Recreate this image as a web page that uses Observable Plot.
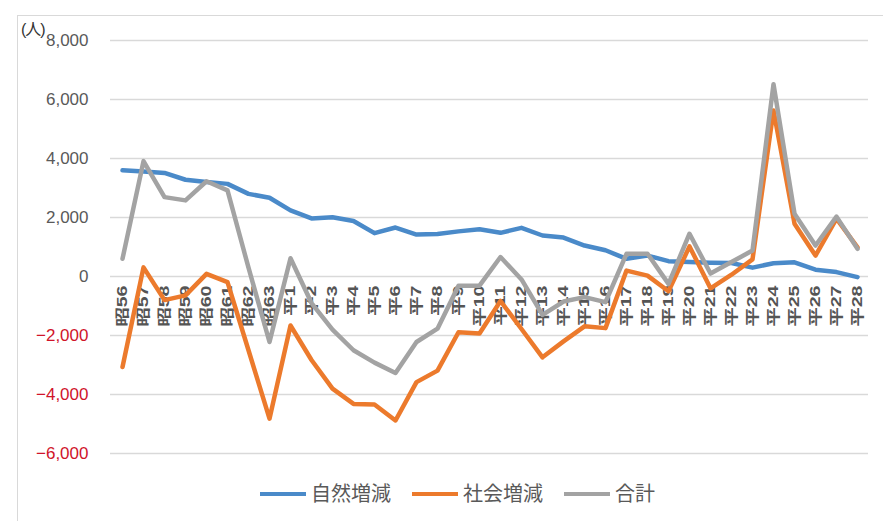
<!DOCTYPE html>
<html>
<head>
<meta charset="utf-8">
<script src="https://cdn.jsdelivr.net/npm/d3@7"></script>
<script src="https://cdn.jsdelivr.net/npm/@observablehq/plot@0.6"></script>
<style>
  html, body { margin: 0; padding: 0; background: #fff; }
  #wrap { position: relative; width: 883px; height: 521px; overflow: hidden; font-family: "Liberation Sans", "Noto Sans CJK JP", sans-serif; }
  #frame { position: absolute; left: 17px; top: 15px; width: 870px; height: 515px; border: 1px solid #d9d9d9; box-sizing: border-box; }
  #chart { position: absolute; left: 0; top: 0; }
  #unit { position: absolute; left: 21px; top: 16px; font-size: 16px; color: #333; letter-spacing: -1px; }
  #legend { position: absolute; left: 260px; top: 482px; display: flex; align-items: center; font-size: 20px; color: #595959; line-height: 24px; }
  .sw { width: 46px; height: 4px; margin-right: 5px; }
  .lt { margin-right: 21px; }
</style>
</head>
<body>
<div id="wrap">
  <div id="frame"></div>
  <div id="chart"></div>
  <div id="unit">(人)</div>
  <div id="legend"></div>
</div>
<script>
const categories = ["昭56","昭57","昭58","昭59","昭60","昭61","昭62","昭63",
  "平1","平2","平3","平4","平5","平6","平7","平8","平9","平10",
  "平11","平12","平13","平14","平15","平16","平17","平18","平19","平20",
  "平21","平22","平23","平24","平25","平26","平27","平28"];

const natural = [3600, 3560, 3510, 3280, 3200, 3140, 2800, 2670,
  2240, 1970, 2010, 1880, 1470, 1660, 1420, 1440, 1530, 1600,
  1480, 1650, 1390, 1320, 1050, 890, 600, 710, 520, 490,
  470, 460, 300, 450, 480, 230, 150, -20];

const social = [-3070, 310, -800, -640, 90, -190, -2500, -4820,
  -1660, -2830, -3800, -4320, -4340, -4880, -3580, -3190, -1890, -1930,
  -830, -1780, -2740, -2200, -1690, -1750, 200, 30, -500, 1020,
  -400, 60, 580, 5630, 1790, 710, 1960, 990];

const total = [600, 3910, 2690, 2580, 3230, 2920, 300, -2220,
  620, -900, -1800, -2500, -2920, -3270, -2220, -1770, -310, -310,
  660, -100, -1300, -850, -700, -870, 770, 770, -250, 1450,
  100, 490, 880, 6520, 2130, 1050, 2030, 940];

const seriesNames = ["自然増減", "社会増減", "合計"];
const seriesColors = ["#4a8ac9", "#ec7a2c", "#a3a3a3"];
const yTicks = [-6000, -4000, -2000, 0, 2000, 4000, 6000, 8000];

const seriesValues = [natural, social, total];
const rows = seriesNames.flatMap((s, k) =>
  categories.map((c, i) => ({cat: c, series: s, value: seriesValues[k][i]})));

const fmt = d3.format(",");

const chart = Plot.plot({
  width: 883,
  height: 470,
  marginTop: 40,
  marginBottom: 17,
  marginLeft: 110,
  marginRight: 15,
  style: {fontFamily: "'Liberation Sans', 'Noto Sans CJK JP', sans-serif", background: "transparent"},
  x: {type: "point", domain: categories, padding: 0.5, axis: null},
  y: {domain: [-6000, 8000], axis: null},
  color: {domain: seriesNames, range: seriesColors},
  marks: [
    Plot.gridY(yTicks, {stroke: "#d9d9d9", strokeOpacity: 1, strokeWidth: 1.3}),
    Plot.axisY(yTicks.filter(v => v >= 0), {tickSize: 0, tickPadding: 22, tickFormat: fmt, fontSize: 17, fill: "#595959", label: null}),
    Plot.axisY(yTicks.filter(v => v < 0), {tickSize: 0, tickPadding: 22, tickFormat: fmt, fontSize: 17, fill: "#d0142a", label: null}),
    Plot.text(categories, {x: d => d, y: () => 0, text: d => d, rotate: -90, textAnchor: "end", dy: 9, fontSize: 14, fill: "#555", fontWeight: "bold"}),
    Plot.line(rows, {x: "cat", y: "value", stroke: "series", z: "series", strokeWidth: 4.5, strokeLinejoin: "round", strokeLinecap: "round"})
  ]
});

// stretch the vertical category labels along their reading direction
d3.select(chart).selectAll('g[aria-label="text"] text').each(function() {
  const t = this.getAttribute("transform") || "";
  this.setAttribute("transform", t + " scale(1.4,1)");
});

document.getElementById("chart").appendChild(chart);

const legend = d3.select("#legend");
seriesNames.forEach((s, i) => {
  legend.append("div").attr("class", "sw").style("background", seriesColors[i]);
  legend.append("div").attr("class", "lt").text(s);
});
</script>
</body>
</html>
